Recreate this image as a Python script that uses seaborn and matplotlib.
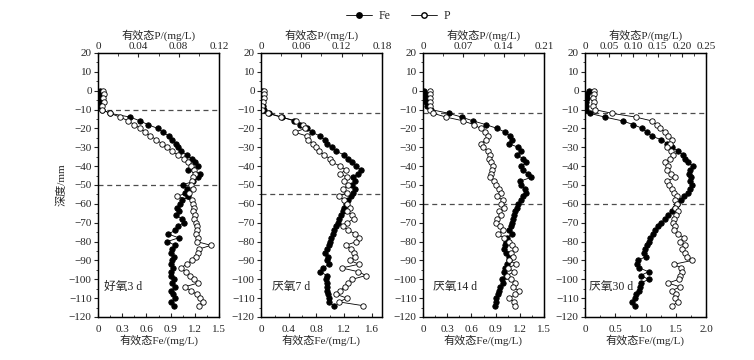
import matplotlib.pyplot as plt
import seaborn as sns
from matplotlib.ticker import FixedLocator, FixedFormatter, AutoMinorLocator, MultipleLocator
from matplotlib.lines import Line2D

sns.set_style("ticks")
plt.rcParams["font.family"] = ["Liberation Serif", "Noto Sans CJK SC"]
plt.rcParams["font.size"] = 8

# sampling depth (mm), shared by all profiles
depth = [0, -2, -4, -6, -8, -10, -12, -14, -16, -18,
         -20, -22, -24, -26, -28, -30, -32, -34, -36, -38,
         -40, -42, -44, -46, -48, -50, -52, -54, -56, -58,
         -60, -62, -64, -66, -68, -70, -72, -74, -76, -78,
         -80, -82, -84, -86, -88, -90, -92, -94, -96, -98,
         -100, -102, -104, -106, -108, -110, -112, -114]

# 好氧3 d
fe_3d = [0.02, 0.01, 0.02, 0.01, 0.02, 0.05, 0.15, 0.40, 0.52, 0.62,
         0.74, 0.80, 0.88, 0.92, 0.97, 0.99, 1.03, 1.10, 1.16, 1.20,
         1.24, 1.12, 1.26, 1.24, 1.18, 1.05, 1.10, 1.08, 1.12, 1.04,
         1.02, 0.98, 1.01, 0.97, 1.04, 1.06, 0.99, 0.96, 0.87, 1.00,
         0.86, 0.96, 0.92, 0.91, 0.94, 0.92, 0.90, 0.93, 0.91, 0.90,
         0.94, 0.92, 0.95, 0.91, 0.93, 0.95, 0.91, 0.94]
p_3d = [0.005, 0.006, 0.005, 0.006, 0.004, 0.004, 0.012, 0.022, 0.030, 0.036,
        0.042, 0.047, 0.052, 0.058, 0.063, 0.068, 0.073, 0.079, 0.085, 0.089,
        0.092, 0.095, 0.096, 0.094, 0.093, 0.092, 0.094, 0.090, 0.078, 0.093,
        0.094, 0.095, 0.094, 0.096, 0.095, 0.097, 0.098, 0.098, 0.097, 0.099,
        0.098, 0.112, 0.100, 0.099, 0.097, 0.093, 0.088, 0.082, 0.087, 0.091,
        0.095, 0.099, 0.086, 0.092, 0.098, 0.101, 0.104, 0.100]

# 厌氧7 d
fe_7d = [0.02, 0.02, 0.03, 0.02, 0.03, 0.05, 0.12, 0.30, 0.48, 0.56,
         0.66, 0.74, 0.85, 0.92, 0.96, 1.02, 1.08, 1.20, 1.26, 1.32,
         1.38, 1.44, 1.40, 1.33, 1.36, 1.32, 1.36, 1.33, 1.30, 1.26,
         1.23, 1.20, 1.18, 1.15, 1.13, 1.11, 1.08, 1.06, 1.04, 1.01,
         1.00, 0.99, 0.96, 0.92, 0.97, 0.96, 0.98, 0.90, 0.86, 0.95,
         0.94, 0.96, 0.95, 0.96, 0.97, 0.98, 0.99, 1.05]
p_7d = [0.004, 0.005, 0.004, 0.003, 0.002, 0.001, 0.010, 0.030, 0.052, 0.062,
        0.066, 0.050, 0.068, 0.070, 0.078, 0.082, 0.086, 0.094, 0.102, 0.106,
        0.118, 0.126, 0.118, 0.128, 0.124, 0.130, 0.122, 0.128, 0.116, 0.124,
        0.128, 0.132, 0.128, 0.136, 0.138, 0.128, 0.122, 0.130, 0.140, 0.146,
        0.142, 0.126, 0.134, 0.138, 0.140, 0.132, 0.146, 0.120, 0.145, 0.156,
        0.136, 0.130, 0.125, 0.117, 0.112, 0.128, 0.116, 0.152]

# 厌氧14 d
fe_14d = [0.01, 0.02, 0.03, 0.04, 0.05, 0.10, 0.32, 0.48, 0.62, 0.78,
          0.92, 1.02, 1.08, 1.10, 1.06, 1.18, 1.22, 1.16, 1.24, 1.28,
          1.22, 1.24, 1.30, 1.34, 1.20, 1.22, 1.26, 1.28, 1.24, 1.22,
          1.18, 1.16, 1.14, 1.13, 1.12, 1.10, 1.09, 1.07, 1.10, 1.04,
          1.03, 1.02, 1.01, 1.03, 1.06, 1.07, 1.04, 1.02, 1.00, 1.03,
          0.98, 0.99, 0.96, 0.94, 0.93, 0.91, 0.90, 0.89]
p_14d = [0.012, 0.013, 0.012, 0.013, 0.012, 0.012, 0.018, 0.040, 0.070, 0.088,
         0.100, 0.108, 0.112, 0.110, 0.100, 0.104, 0.112, 0.116, 0.114, 0.118,
         0.121, 0.120, 0.118, 0.116, 0.123, 0.127, 0.132, 0.136, 0.128, 0.138,
         0.135, 0.140, 0.132, 0.135, 0.128, 0.126, 0.134, 0.138, 0.130, 0.140,
         0.150, 0.155, 0.160, 0.152, 0.156, 0.150, 0.162, 0.148, 0.158, 0.146,
         0.152, 0.160, 0.156, 0.166, 0.160, 0.150, 0.158, 0.160]

# 厌氧30 d
fe_30d = [0.06, 0.04, 0.03, 0.02, 0.02, 0.02, 0.08, 0.33, 0.62, 0.80,
          0.95, 1.02, 1.10, 1.26, 1.36, 1.44, 1.54, 1.62, 1.66, 1.70,
          1.78, 1.74, 1.72, 1.76, 1.74, 1.77, 1.74, 1.70, 1.64, 1.58,
          1.52, 1.48, 1.44, 1.38, 1.32, 1.26, 1.20, 1.16, 1.12, 1.08,
          1.05, 1.02, 0.99, 0.98, 1.00, 0.88, 0.86, 0.90, 1.05, 0.92,
          1.05, 0.93, 0.91, 0.89, 0.84, 0.82, 0.77, 0.82]
p_30d = [0.018, 0.018, 0.017, 0.018, 0.017, 0.020, 0.056, 0.105, 0.138, 0.148,
         0.155, 0.165, 0.172, 0.180, 0.176, 0.170, 0.178, 0.182, 0.176, 0.165,
         0.172, 0.170, 0.178, 0.186, 0.170, 0.174, 0.180, 0.184, 0.190, 0.185,
         0.190, 0.186, 0.192, 0.188, 0.184, 0.182, 0.186, 0.184, 0.192, 0.205,
         0.196, 0.206, 0.200, 0.206, 0.210, 0.222, 0.184, 0.198, 0.200, 0.196,
         0.194, 0.172, 0.196, 0.180, 0.188, 0.186, 0.192, 0.180]

panel_names = ["好氧3 d", "厌氧7 d", "厌氧14 d", "厌氧30 d"]
fe_data = [fe_3d, fe_7d, fe_14d, fe_30d]
p_data = [p_3d, p_7d, p_14d, p_30d]
dash_depths = [[-10, -50], [-12, -55], [-12, -60], [-12, -60]]

fe_ticks = [[0, 0.3, 0.6, 0.9, 1.2, 1.5], [0, 0.4, 0.8, 1.2, 1.6],
            [0, 0.3, 0.6, 0.9, 1.2, 1.5], [0, 0.5, 1.0, 1.5, 2.0]]
fe_labels = [["0", "0.3", "0.6", "0.9", "1.2", "1.5"], ["0", "0.4", "0.8", "1.2", "1.6"],
             ["0", "0.3", "0.6", "0.9", "1.2", "1.5"], ["0", "0.5", "1.0", "1.5", "2.0"]]
fe_max = [1.5, 1.75, 1.5, 2.0]
p_ticks = [[0, 0.04, 0.08, 0.12], [0, 0.06, 0.12, 0.18],
           [0, 0.07, 0.14, 0.21], [0, 0.05, 0.10, 0.15, 0.20, 0.25]]
p_labels = [["0", "0.04", "0.08", "0.12"], ["0", "0.06", "0.12", "0.18"],
            ["0", "0.07", "0.14", "0.21"], ["0", "0.05", "0.10", "0.15", "0.20", "0.25"]]
p_max = [0.12, 0.18, 0.21, 0.25]
y_ticks = [20, 10, 0, -10, -20, -30, -40, -50, -60, -70, -80, -90, -100, -110, -120]

fig = plt.figure(figsize=(7.54, 3.6), dpi=100)
lefts = [98, 261, 423, 585]
name_x = [0.05, 0.09, 0.085, 0.035]
ms = 3.9

for i in range(4):
    ax = fig.add_axes([lefts[i] / 754, 43 / 360, 121 / 754, 264 / 360])
    ax2 = ax.twiny()

    for d in dash_depths[i]:
        ax.axhline(d, color="0.3", lw=0.9, ls=(0, (4, 3)), zorder=1)

    sns.lineplot(x=fe_data[i], y=depth, ax=ax, sort=False, estimator=None,
                 color="black", lw=0.6, marker="o", markersize=ms,
                 markerfacecolor="black", markeredgecolor="black", markeredgewidth=0.6)
    sns.lineplot(x=p_data[i], y=depth, ax=ax2, sort=False, estimator=None,
                 color="black", lw=0.6, marker="o", markersize=ms,
                 markerfacecolor="white", markeredgecolor="black", markeredgewidth=0.6)

    ax.set_xlim(0, fe_max[i])
    ax2.set_xlim(0, p_max[i])
    ax.set_ylim(-120, 20)

    ax.xaxis.set_major_locator(FixedLocator(fe_ticks[i]))
    ax.xaxis.set_major_formatter(FixedFormatter(fe_labels[i]))
    ax.xaxis.set_minor_locator(AutoMinorLocator(2))
    ax2.xaxis.set_major_locator(FixedLocator(p_ticks[i]))
    ax2.xaxis.set_major_formatter(FixedFormatter(p_labels[i]))
    ax2.xaxis.set_minor_locator(AutoMinorLocator(2))
    ax.yaxis.set_major_locator(FixedLocator(y_ticks))
    ax.yaxis.set_minor_locator(MultipleLocator(5))

    ax.tick_params(axis="x", which="both", direction="in", pad=6, labelsize=8)
    ax.tick_params(axis="x", which="major", length=3)
    ax.tick_params(axis="x", which="minor", length=1.8)
    ax2.tick_params(axis="x", which="both", direction="in", pad=1.5, labelsize=8)
    ax2.tick_params(axis="x", which="major", length=3)
    ax2.tick_params(axis="x", which="minor", length=1.8)
    ax.tick_params(axis="y", which="major", direction="out", length=3, pad=1.5, labelsize=8)
    ax.tick_params(axis="y", which="minor", direction="out", length=1.8)
    ax2.tick_params(axis="y", left=False, right=False, labelleft=False, labelright=False)

    for sp in list(ax.spines.values()) + list(ax2.spines.values()):
        sp.set_linewidth(0.9)
        sp.set_color("black")

    ax.set_xlabel("有效态Fe/(mg/L)", fontsize=8, labelpad=0)
    ax2.set_xlabel("有效态P/(mg/L)", fontsize=8, labelpad=2)
    ax.set_ylabel("")
    ax.text(name_x[i], -104, panel_names[i], transform=ax.get_yaxis_transform(),
            ha="left", va="center", fontsize=8.5, color="0.15")

    for a in (ax, ax2):
        if a.get_legend() is not None:
            a.get_legend().remove()

    if i == 0:
        ax.set_ylabel("深度/mm", fontsize=8, labelpad=2)

handles = [
    Line2D([], [], color="black", lw=0.6, marker="o", markersize=ms,
           markerfacecolor="black", markeredgecolor="black"),
    Line2D([], [], color="black", lw=0.6, marker="o", markersize=ms,
           markerfacecolor="white", markeredgecolor="black"),
]
fig.legend(handles, ["Fe", "P"], loc="center", bbox_to_anchor=(398 / 754, 1 - 16 / 360),
           ncol=2, frameon=False, fontsize=8.5, handlelength=2.2, columnspacing=1.8,
           handletextpad=0.5)

fig.savefig("out.png", dpi=100)
